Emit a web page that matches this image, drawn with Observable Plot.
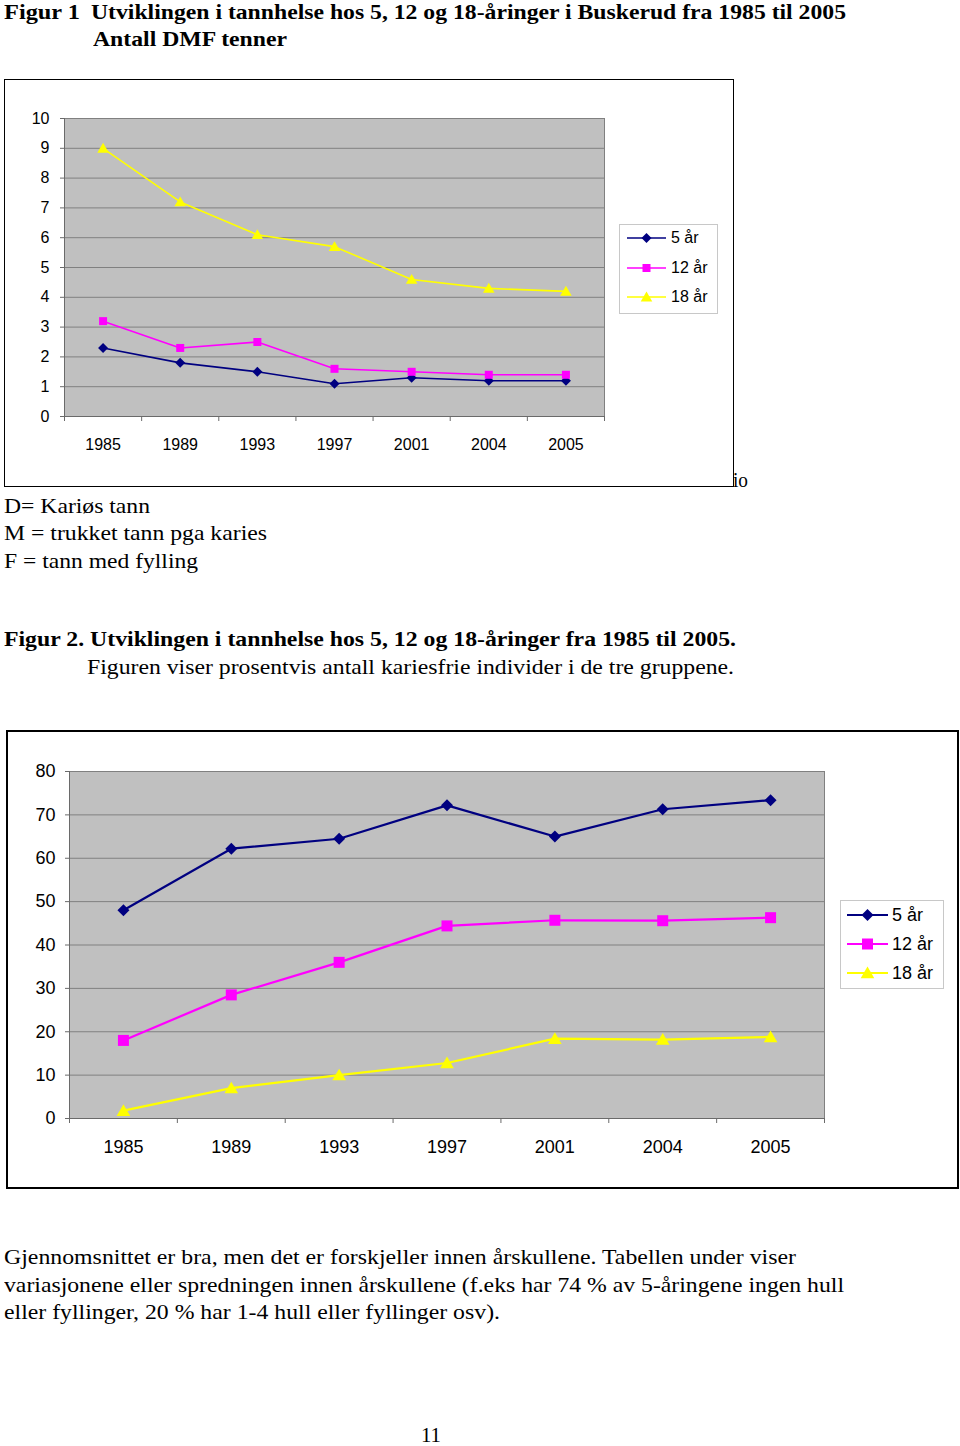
<!DOCTYPE html>
<html><head><meta charset="utf-8">
<script src="https://cdn.jsdelivr.net/npm/d3@7"></script>
<script src="https://cdn.jsdelivr.net/npm/@observablehq/plot@0.6"></script>
<style>
body{margin:0;background:#fff;}
#page{position:relative;width:960px;height:1446px;overflow:hidden;font-family:"Liberation Serif","Times New Roman",serif;color:#000;background:#fff;}
.t{position:absolute;white-space:nowrap;transform-origin:0 50%;}
.box{position:absolute;box-sizing:border-box;background:#fff;}
.box svg{position:absolute;left:0;top:0;}
.legend{position:absolute;box-sizing:border-box;border:1px solid #c8c8c8;background:#fff;font-family:"Liberation Sans",Arial,sans-serif;}
.legend .row{position:absolute;left:0;white-space:nowrap;}
</style></head><body><div id="page"></div>
<script>
// ---------- data ----------
const years = ["1985", "1989", "1993", "1997", "2001", "2004", "2005"];
const seriesNames = ["5 år", "12 år", "18 år"];
const seriesColors = ["#000080", "#ff00ff", "#ffff00"];
// Figur 1: antall DMF tenner
const dmf5 = [2.3, 1.8, 1.5, 1.1, 1.3, 1.2, 1.2];
const dmf12 = [3.2, 2.3, 2.5, 1.6, 1.5, 1.4, 1.4];
const dmf18 = [9.0, 7.2, 6.1, 5.7, 4.6, 4.3, 4.2];
const dmfTicks = [0, 1, 2, 3, 4, 5, 6, 7, 8, 9, 10];
// Figur 2: prosent kariesfrie
const free5 = [48, 62.2, 64.5, 72.2, 65, 71.3, 73.4];
const free12 = [18, 28.5, 36, 44.4, 45.7, 45.6, 46.3];
const free18 = [1.8, 7, 10, 12.8, 18.4, 18.2, 18.8];
const freeTicks = [0, 10, 20, 30, 40, 50, 60, 70, 80];

// ---------- symbols ----------
const diamondSym = {draw(c, size){ const r = Math.sqrt(size/Math.PI); c.moveTo(0,-r); c.lineTo(r,0); c.lineTo(0,r); c.lineTo(-r,0); c.closePath(); }};
const squareSym = {draw(c, size){ const r = Math.sqrt(size/Math.PI); c.rect(-r,-r,2*r,2*r); }};
const triangleSym = {draw(c, size){ const r = Math.sqrt(size/Math.PI); c.moveTo(0,-r*1.0); c.lineTo(r*1.05,r*0.8); c.lineTo(-r*1.05,r*0.8); c.closePath(); }};
const symbols = [diamondSym, squareSym, triangleSym];

const page = document.getElementById("page");

function addText(str, x0, x1, cy, fs, bold, lh) {
  const d = document.createElement("div");
  const L = lh || fs;
  d.className = "t";
  d.textContent = str;
  d.style.left = x0 + "px";
  d.style.fontSize = fs + "px";
  d.style.lineHeight = L + "px";
  d.style.top = (cy - L*0.5) + "px";
  if (bold) d.style.fontWeight = "bold";
  page.appendChild(d);
  const w = d.getBoundingClientRect().width;
  if (x1 && w > 0) d.style.transform = `scaleX(${(x1 - x0)/w})`;
  return d;
}

function chart(opts) {
  const {values, ticks, yMax, left, top, width, height, border, ml, mr, mt, mb, fs, sw, rs, labPad, yPad} = opts;
  const box = document.createElement("div");
  box.className = "box";
  Object.assign(box.style, {left:left+"px", top:top+"px", width:width+"px", height:height+"px", border:`${border}px solid #000`});
  page.appendChild(box);
  const data = [];
  seriesNames.forEach((name, s) => values[s].forEach((v, i) => data.push({series: name, s, i, v})));
  const W = width - 2*border, H = height - 2*border;
  const svg = Plot.plot({
    width: W, height: H,
    marginLeft: ml, marginRight: mr, marginTop: mt, marginBottom: mb,
    style: {fontFamily: "'Liberation Sans', Arial, sans-serif", fontSize: fs + "px", background: "transparent", color: "#000"},
    x: {type: "linear", domain: [-0.5, years.length - 0.5]},
    y: {domain: [0, yMax]},
    color: {domain: seriesNames, range: seriesColors},
    marks: [
      Plot.frame({fill: "#c0c0c0", stroke: "#808080"}),
      Plot.gridY(ticks, {stroke: "#808080", strokeOpacity: 1, strokeWidth: 1}),
      Plot.ruleY([0], {stroke: "#6a6a6a"}),
      Plot.ruleX([-0.5], {stroke: "#6a6a6a"}),
      Plot.axisY(ticks, {tickSize: 4, tickPadding: yPad, label: null, stroke: "#6a6a6a", fill: "#000", fontSize: fs}),
      Plot.axisX(d3.range(-0.5, years.length), {tickSize: 5, tickFormat: () => "", label: null, stroke: "#6a6a6a"}),
      Plot.axisX(d3.range(years.length), {tickSize: 0, tickPadding: labPad, tickFormat: i => years[i], label: null, fill: "#000", fontSize: fs}),
      Plot.line(data, {x: "i", y: "v", z: "series", stroke: "series", strokeWidth: sw, curve: "linear"}),
      ...seriesNames.map((name, s) => Plot.dot(data.filter(d => d.s === s), {x: "i", y: "v", symbol: symbols[s], r: rs[s], fill: seriesColors[s], stroke: "none"}))
    ]
  });
  box.appendChild(svg);
  return box;
}

function legend(opts) {
  const {left, top, width, height, rows, fs, lineX0, lineX1, textX, sw, rs} = opts;
  const lg = document.createElement("div");
  lg.className = "legend";
  Object.assign(lg.style, {left:left+"px", top:top+"px", width:width+"px", height:height+"px", fontSize: fs+"px"});
  page.appendChild(lg);
  seriesNames.forEach((name, s) => {
    const cy = rows[s] - top - 1;
    const ns = "http://www.w3.org/2000/svg";
    const sv = document.createElementNS(ns, "svg");
    sv.setAttribute("width", textX); sv.setAttribute("height", 20);
    sv.style.position = "absolute"; sv.style.left = "0px"; sv.style.top = (cy - 10) + "px";
    const ln = document.createElementNS(ns, "line");
    ln.setAttribute("x1", lineX0); ln.setAttribute("x2", lineX1); ln.setAttribute("y1", 10); ln.setAttribute("y2", 10);
    ln.setAttribute("stroke", seriesColors[s]); ln.setAttribute("stroke-width", sw);
    sv.appendChild(ln);
    const p = document.createElementNS(ns, "path");
    const path = d3.path();
    symbols[s].draw(path, rs[s]*rs[s]*Math.PI);
    p.setAttribute("d", path.toString());
    p.setAttribute("transform", `translate(${(lineX0+lineX1)/2},10)`);
    p.setAttribute("fill", seriesColors[s]);
    sv.appendChild(p);
    lg.appendChild(sv);
    const t = document.createElement("div");
    t.className = "row";
    t.textContent = name;
    t.style.left = textX + "px";
    t.style.lineHeight = fs + "px";
    t.style.top = (cy - fs*0.5) + "px";
    lg.appendChild(t);
  });
}

// ---------- page texts ----------
addText("Figur 1", 4, 80, 12, 22, true);
addText("Utviklingen i tannhelse hos 5, 12 og 18-åringer i Buskerud fra 1985 til 2005", 91, 846, 12, 22, true);
addText("Antall DMF tenner", 93, 287, 39, 22, true);

// ---------- Figur 1 ----------
chart({values: [dmf5, dmf12, dmf18], ticks: dmfTicks, yMax: 10,
  left: 4, top: 79, width: 730, height: 408, border: 1,
  ml: 59, mr: 129, mt: 38, mb: 70, fs: 16, sw: 1.6, rs: [5, 4, 5.5], labPad: 22, yPad: 11});
legend({left: 619, top: 224, width: 99, height: 90, rows: [238, 268, 297], fs: 16,
  lineX0: 7, lineX1: 46, textX: 51, sw: 1.6, rs: [5, 4, 5.5]});
addText("io", 733, 748, 480, 20, false);

addText("D= Kariøs tann", 4, 150, 506, 22, false);
addText("M = trukket tann pga karies", 4, 267, 533, 22, false);
addText("F = tann med fylling", 4, 198, 561, 22, false);

addText("Figur 2. Utviklingen i tannhelse hos 5, 12 og 18-åringer fra 1985 til 2005.", 4, 736, 639, 22, true);
addText("Figuren viser prosentvis antall kariesfrie individer i de tre gruppene.", 87, 734, 667, 22, false);

// ---------- Figur 2 ----------
chart({values: [free5, free12, free18], ticks: freeTicks, yMax: 80,
  left: 6, top: 730, width: 953, height: 459, border: 2,
  ml: 61, mr: 133, mt: 39, mb: 69, fs: 18, sw: 2.2, rs: [6, 5.5, 6.5], labPad: 22, yPad: 10});
legend({left: 840, top: 900, width: 104, height: 89, rows: [915, 944, 973], fs: 18,
  lineX0: 6, lineX1: 47, textX: 51, sw: 2.2, rs: [6, 5.5, 6.5]});

addText("Gjennomsnittet er bra, men det er forskjeller innen årskullene. Tabellen under viser", 4, 796, 1257, 22, false);
addText("variasjonene eller spredningen innen årskullene (f.eks har 74 % av 5-åringene ingen hull", 4, 844, 1285, 22, false);
addText("eller fyllinger, 20 % har 1-4 hull eller fyllinger osv).", 4, 500, 1312, 22, false);
addText("11", 421, 441, 1435, 20, false, 18);
</script>
</body></html>
